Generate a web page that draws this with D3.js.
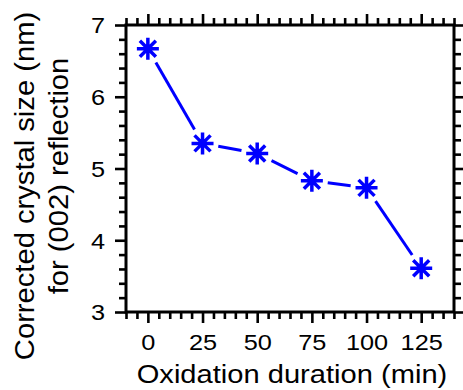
<!DOCTYPE html>
<html>
<head>
<meta charset="utf-8">
<script src="https://cdn.jsdelivr.net/npm/d3@7"></script>
<style>
  body { margin: 0; background: #fff; }
  svg { display: block; font-family: "Liberation Sans", Arial, sans-serif; }
</style>
</head>
<body>
<svg width="463" height="390"></svg>
<script>
// data
const durations = [0, 25, 50, 75, 100, 125];
const crystalSize = [6.67, 5.35, 5.21, 4.83, 4.73, 3.61];
const xTicks = [0, 25, 50, 75, 100, 125];
const yTicks = [3, 4, 5, 6, 7];

const svg = d3.select("svg");
const plotL = 126, plotR = 454, plotT = 25, plotB = 312;

const x = d3.scaleLinear().domain([-10, 140]).range([plotL, plotR]);
const y = d3.scaleLinear().domain([3, 7]).range([plotB, plotT]);

const xMinor = d3.range(-10, 141, 5).filter(v => v % 25 !== 0);
const yMinor = d3.range(30, 71, 2).map(v => v / 10).filter(v => !Number.isInteger(v));

const stretch = 1.15;

function styleAxis(g) {
  g.select(".domain").remove();
  g.selectAll("line").attr("stroke", "#000").attr("stroke-width", 2.6);
  g.selectAll("text").attr("fill", "#000");
}

// minor ticks on all four sides
svg.append("g").attr("transform", `translate(0,${plotB})`)
  .call(d3.axisBottom(x).tickValues(xMinor).tickSize(7).tickFormat("")).call(styleAxis);
svg.append("g").attr("transform", `translate(0,${plotT})`)
  .call(d3.axisTop(x).tickValues(xMinor).tickSize(7).tickFormat("")).call(styleAxis);
svg.append("g").attr("transform", `translate(${plotL},0)`)
  .call(d3.axisLeft(y).tickValues(yMinor).tickSize(7).tickFormat("")).call(styleAxis);
svg.append("g").attr("transform", `translate(${plotR},0)`)
  .call(d3.axisRight(y).tickValues(yMinor).tickSize(7).tickFormat("")).call(styleAxis);

// major ticks
svg.append("g").attr("transform", `translate(0,${plotT})`)
  .call(d3.axisTop(x).tickValues(xTicks).tickSize(11).tickFormat("")).call(styleAxis);
svg.append("g").attr("transform", `translate(${plotR},0)`)
  .call(d3.axisRight(y).tickValues(yTicks).tickSize(11).tickFormat("")).call(styleAxis);

const xAxis = svg.append("g").attr("transform", `translate(0,${plotB})`)
  .call(d3.axisBottom(x).tickValues(xTicks).tickSize(11).tickFormat(d3.format("d")))
  .call(styleAxis);
xAxis.selectAll("text")
  .attr("y", 38).attr("dy", 0)
  .style("font-size", "22px")
  .attr("transform", `scale(${stretch},1)`);

const yAxis = svg.append("g").attr("transform", `translate(${plotL},0)`)
  .call(d3.axisLeft(y).tickValues(yTicks).tickSize(11).tickFormat(d3.format("d")))
  .call(styleAxis);
yAxis.selectAll("text")
  .attr("x", -21 / stretch).attr("dy", "0.36em")
  .style("font-size", "22px")
  .attr("transform", `scale(${stretch},1)`);

// frame
svg.append("rect")
  .attr("x", plotL).attr("y", plotT)
  .attr("width", plotR - plotL).attr("height", plotB - plotT)
  .attr("fill", "none").attr("stroke", "#000").attr("stroke-width", 3);

// connecting segments, stopping short of each marker
const pts = durations.map((d, i) => [x(d), y(crystalSize[i])]);
const gap = 16;
const segs = d3.pairs(pts).map(([a, b]) => {
  const dx = b[0] - a[0], dy = b[1] - a[1];
  const len = Math.hypot(dx, dy);
  const ux = dx / len, uy = dy / len;
  return [a[0] + ux * gap, a[1] + uy * gap, b[0] - ux * gap, b[1] - uy * gap];
});
svg.append("g").selectAll("line").data(segs).join("line")
  .attr("x1", d => d[0]).attr("y1", d => d[1])
  .attr("x2", d => d[2]).attr("y2", d => d[3])
  .attr("stroke", "#0000ff").attr("stroke-width", 3);

// asterisk markers
const r = 11, rd = 8;
const star = `M${-r},0L${r},0M0,${-r}L0,${r}M${-rd},${-rd}L${rd},${rd}M${-rd},${rd}L${rd},${-rd}`;
svg.append("g").selectAll("path").data(pts).join("path")
  .attr("transform", d => `translate(${d[0]},${d[1]})`)
  .attr("d", star)
  .attr("fill", "none").attr("stroke", "#0000ff").attr("stroke-width", 3.5);

// axis titles
svg.append("text")
  .attr("transform", `translate(${(plotL + plotR) / 2 + 2},383) scale(1.12,1)`)
  .attr("text-anchor", "middle")
  .style("font-size", "26px")
  .text("Oxidation duration (min)");

svg.append("text")
  .attr("transform", `translate(34,186) rotate(-90) scale(1.08,1)`)
  .attr("text-anchor", "middle")
  .style("font-size", "27px")
  .text("Corrected crystal size (nm)");

svg.append("text")
  .attr("transform", `translate(68,176) rotate(-90) scale(1.08,1)`)
  .attr("text-anchor", "middle")
  .style("font-size", "27px")
  .text("for (002) reflection");
</script>
</body>
</html>
